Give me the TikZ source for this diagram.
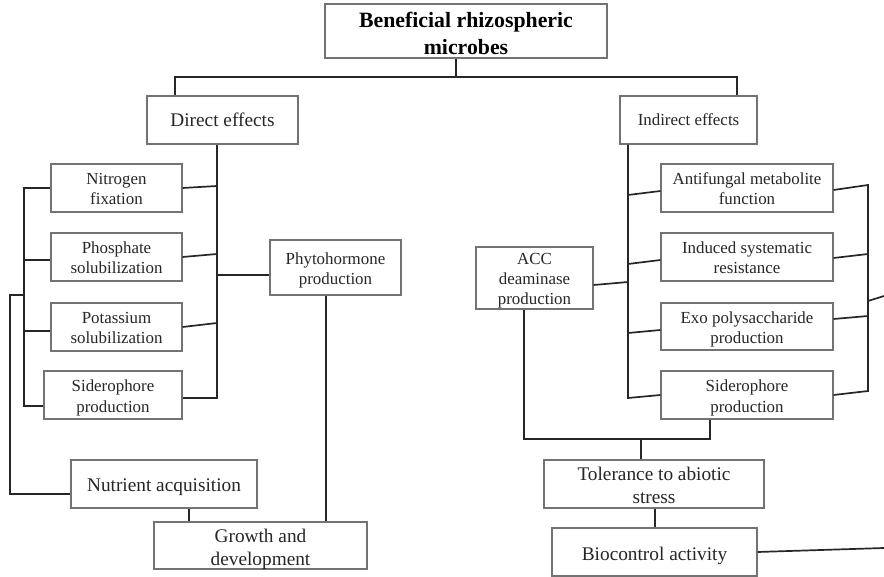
\documentclass[tikz,border=0pt]{standalone}
\usepackage{fontspec}
\setmainfont{Liberation Serif}
\newcommand{\bxt}[2][-3pt]{\raisebox{#1}[\height][\depth]{\begin{tabular}{@{}c@{}}#2\end{tabular}}}
\begin{document}
\begin{tikzpicture}[x=1pt,y=-1pt,
  box/.style={draw=black!55, line width=1.1pt, fill=white, inner sep=0pt, text=black!85},
  sm/.style={box, font=\fontsize{16.9}{20}\selectfont},
  lg/.style={box, font=\fontsize{19.3}{23}\selectfont},
  ttl/.style={box, font=\fontsize{21.8}{27}\selectfont\bfseries, text=black},
  link/.style={draw=black!85, line width=1.7pt, line join=miter}]
\useasboundingbox (0,0) rectangle (884,577);
% nodes
\node[ttl, minimum width=282pt, minimum height=48pt] (top) at (466,31) {\bxt[-4.5pt]{Beneficial rhizospheric\\microbes}};
\node[lg, minimum width=151pt, minimum height=48pt] (direct) at (222.5,120) {\bxt[-2pt]{Direct effects}};
\node[sm, minimum width=137pt, minimum height=48pt] (indirect) at (688.5,120) {\bxt[-2pt]{Indirect effects}};
\node[sm, minimum width=131pt, minimum height=48pt] (nf) at (116.5,188) {\bxt{Nitrogen\\fixation}};
\node[sm, minimum width=131pt, minimum height=48pt] (ps) at (116.5,257) {\bxt{Phosphate\\solubilization}};
\node[sm, minimum width=131pt, minimum height=48pt] (ks) at (116.5,327) {\bxt{Potassium\\solubilization}};
\node[sm, minimum width=138pt, minimum height=48pt] (sp1) at (113,395) {\bxt{Siderophore\\production}};
\node[sm, minimum width=131pt, minimum height=55pt] (phyto) at (335.5,267.5) {\bxt{Phytohormone\\production}};
\node[lg, minimum width=186pt, minimum height=48pt] (nutr) at (164,484) {\bxt[-3pt]{Nutrient acquisition}};
\node[lg, minimum width=213pt, minimum height=47pt] (growth) at (260.5,545.5) {\bxt[-3.5pt]{Growth and\\development}};
\node[sm, minimum width=172pt, minimum height=48pt] (amf) at (747,188) {\bxt{Antifungal metabolite\\function}};
\node[sm, minimum width=172pt, minimum height=48pt] (isr) at (747,257) {\bxt{Induced systematic\\resistance}};
\node[sm, minimum width=172pt, minimum height=47pt] (exo) at (747,326.5) {\bxt{Exo polysaccharide\\production}};
\node[sm, minimum width=172pt, minimum height=48pt] (sp2) at (747,395) {\bxt{Siderophore\\production}};
\node[sm, minimum width=117pt, minimum height=62pt] (acc) at (534.5,278) {\bxt{ACC\\deaminase\\production}};
\node[lg, minimum width=220pt, minimum height=48pt] (tol) at (654,484) {\bxt[-3pt]{Tolerance to abiotic\\stress}};
\node[lg, minimum width=205pt, minimum height=48pt] (bio) at (654.5,552) {\bxt[-4pt]{Biocontrol activity}};
% junction coordinates
\coordinate (bus) at (456,77);
\coordinate (bl) at (175,77);
\coordinate (br) at (737,77);
\coordinate (dv) at (217,398);
\coordinate (jnf) at (217,186);
\coordinate (jps) at (217,254);
\coordinate (jks) at (217,323);
\coordinate (jph) at (217,275);
\coordinate (il1) at (24,188);
\coordinate (il2) at (24,260);
\coordinate (il3) at (24,331);
\coordinate (il4) at (24,406);
\coordinate (ol1) at (24,295);
\coordinate (ol2) at (10,295);
\coordinate (ol3) at (10,494);
\coordinate (gx) at (189,0);
\coordinate (px) at (326,0);
\coordinate (iv) at (628,398);
\coordinate (jamf) at (628,195);
\coordinate (jisr) at (628,264);
\coordinate (jacc) at (628,282);
\coordinate (jexo) at (628,333);
\coordinate (rv1) at (868,185);
\coordinate (rv2) at (868,254);
\coordinate (rv3) at (868,316);
\coordinate (rv4) at (868,391);
\coordinate (rvo) at (868,301);
\coordinate (rend) at (884,296);
\coordinate (ab1) at (524,439);
\coordinate (ab2) at (710,439);
\coordinate (ab3) at (641,439);
\coordinate (tx) at (655,0);
\coordinate (bend) at (884,548);
% connectors
\draw[link] (top.south -| bus) -- (bus);
\draw[link] (direct.north -| bl) -- (bl) -- (br) -- (indirect.north -| br);
\draw[link] (direct.south -| dv) -- (dv) -- (sp1.east |- dv);
\draw[link] (nf.east) -- (jnf);
\draw[link] (ps.east) -- (jps);
\draw[link] (ks.east) -- (jks);
\draw[link] (jph) -- (phyto.west |- jph);
\draw[link] (nf.west) -- (il1) -- (il4) -- (sp1.west |- il4);
\draw[link] (il2) -- (ps.west |- il2);
\draw[link] (il3) -- (ks.west |- il3);
\draw[link] (ol1) -- (ol2) -- (ol3) -- (nutr.west |- ol3);
\draw[link] (nutr.south -| gx) -- (growth.north -| gx);
\draw[link] (phyto.south -| px) -- (growth.north -| px);
\draw[link] (indirect.south -| iv) -- (iv) -- (sp2.west);
\draw[link] (jamf) -- ([yshift=-3pt]amf.west);
\draw[link] (jisr) -- ([yshift=-3pt]isr.west);
\draw[link] ([yshift=-7pt]acc.east) -- (jacc);
\draw[link] (jexo) -- ([yshift=-3.5pt]exo.west);
\draw[link] ([yshift=-2pt]amf.east) -- (rv1) -- (rv4) -- (sp2.east);
\draw[link] ([yshift=-1pt]isr.east) -- (rv2);
\draw[link] ([yshift=7.5pt]exo.east) -- (rv3);
\draw[link] (rvo) -- (rend);
\draw[link] (acc.south -| ab1) -- (ab1) -- (ab2) -- (sp2.south -| ab2);
\draw[link] (ab3) -- (tol.north -| ab3);
\draw[link] (tol.south -| tx) -- (bio.north -| tx);
\draw[link] (bio.east) -- (bend);
\end{tikzpicture}
\end{document}
